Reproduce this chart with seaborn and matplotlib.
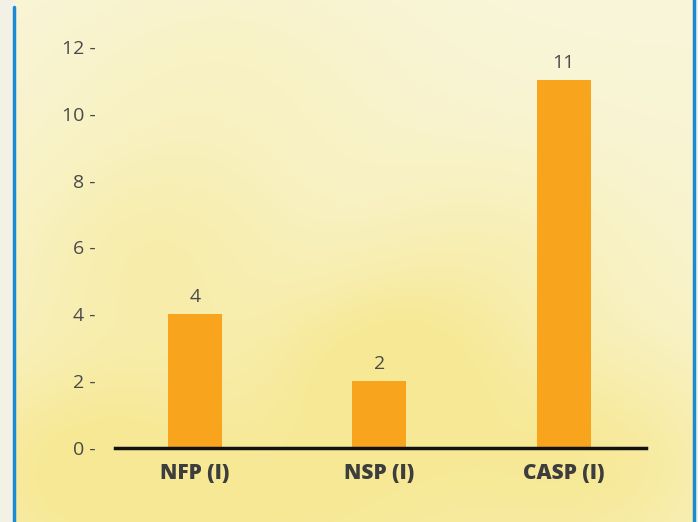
import numpy as np
import matplotlib
matplotlib.use("Agg")
import matplotlib.pyplot as plt
import seaborn as sns
import pandas as pd

categories = ["NFP (I)", "NSP (I)", "CASP (I)"]
values = [4, 2, 11]
y_ticks = [0, 2, 4, 6, 8, 10, 12]

sns.set_theme(style="white")
plt.rcParams["font.family"] = ["Open Sans", "DejaVu Sans"]

W, H = 698, 522
fig = plt.figure(figsize=(W / 100, H / 100), dpi=100)
fig.patch.set_facecolor("#f3f1e6")

# soft watercolour-style wash behind the chart
bg = fig.add_axes([15 / W, 0, (694 - 15) / W, 1])
yy, xx = np.mgrid[0:1:300j, 0:1:400j]
base = np.array([249, 246, 218]) / 255
deep = np.array([246, 228, 125]) / 255
blobs = [
    (0.10, 0.10, 0.15, 0.7),
    (0.55, 0.30, 0.12, 0.6),
    (0.85, 0.12, 0.15, 0.6),
    (0.20, 0.50, 0.15, 0.45),
    (0.70, 0.50, 0.15, 0.35),
    (0.45, 0.02, 0.20, 0.6),
    (0.30, 0.85, 0.20, 0.25),
]
w = np.zeros_like(xx)
for cx, cy, r, a in blobs:
    w += a * np.exp(-((xx - cx) ** 2 + (yy - cy) ** 2) / (2 * r ** 2))
w += 0.3 * (1 - yy)
w = np.clip(w, 0, 1) * 0.75
img = base[None, None, :] * (1 - w[..., None]) + deep[None, None, :] * w[..., None]
bg.imshow(img, origin="lower", aspect="auto", extent=[0, 1, 0, 1])
bg.set_axis_off()

# blue frame edges
fig.add_artist(plt.Line2D([14 / W, 14 / W], [0, 1 - 7 / H], color="#1a8ad4", lw=2.5))
fig.add_artist(plt.Line2D([694 / W, 694 / W], [0, 1], color="#1a8ad4", lw=2.5))

# plotting area
y0, y_unit = 448, (448 - 47) / 12
ymax = 12.4
ax = fig.add_axes([115 / W, (H - y0) / H, (646 - 115) / W, ymax * y_unit / H])
ax.patch.set_alpha(0)

df = pd.DataFrame({"cat": categories, "val": values})
sns.barplot(data=df, x="cat", y="val", color="#f8a51d", saturation=1,
            width=0.293, linewidth=0, ax=ax)

ax.set_xlim(-0.435, 2.446)
ax.set_ylim(0, ymax)
ax.set_yticks(y_ticks)
ax.set_yticklabels([f"{t} -" for t in y_ticks], fontsize=14, color="#4a4a4a")
ax.tick_params(axis="y", length=0, pad=14)
ax.tick_params(axis="x", length=0, pad=11)
for lbl in ax.get_xticklabels():
    lbl.set_fontsize(15)
    lbl.set_fontweight("heavy")
    lbl.set_color("#3d3d3d")
ax.set_xlabel("")
ax.set_ylabel("")
for s in ["top", "right", "left"]:
    ax.spines[s].set_visible(False)
ax.spines["bottom"].set_color("#111111")
ax.spines["bottom"].set_linewidth(2.5)

for i, v in enumerate(values):
    ax.annotate(str(v), (i, v), xytext=(0, 6), textcoords="offset points",
                ha="center", va="bottom", fontsize=14, color="#4a4a4a")

fig.savefig("out.png", dpi=100)
